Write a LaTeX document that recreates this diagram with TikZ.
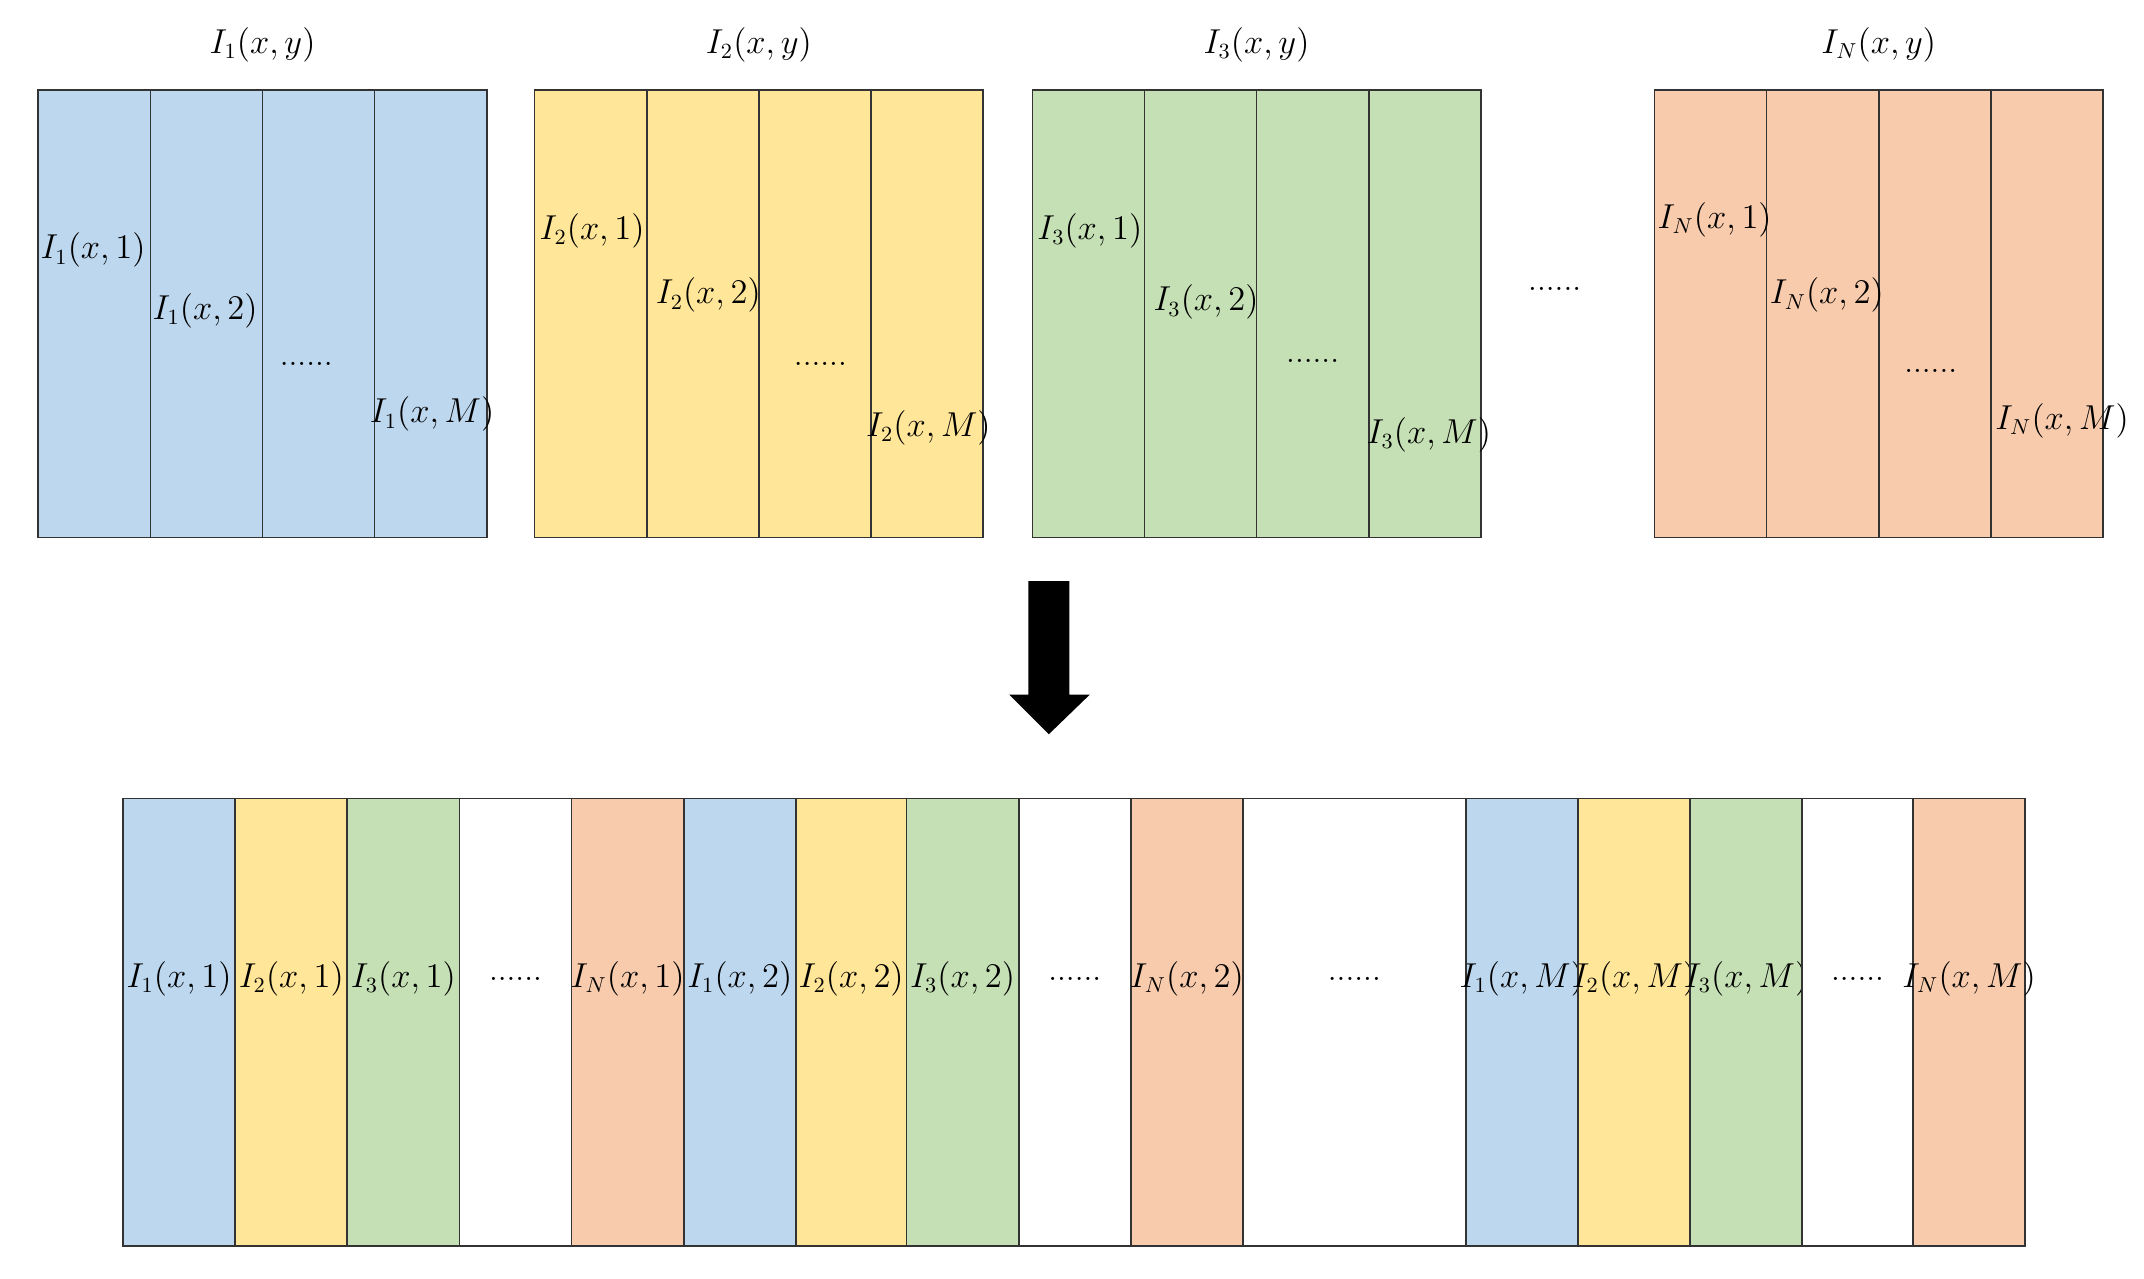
\documentclass[tikz,border=0pt]{standalone}
\usepackage{amsmath}
\definecolor{cb}{HTML}{BDD7EE}
\definecolor{cy}{HTML}{FFE699}
\definecolor{cg}{HTML}{C5E0B4}
\definecolor{co}{HTML}{F8CBAD}
\begin{document}
\begin{tikzpicture}[x=0.02cm,y=-0.02cm,
  cell/.style={draw=black!80,line width=0.7pt},
  lab/.style={font=\fontsize{13.5}{16}\selectfont,inner sep=0pt}]
\useasboundingbox (0,0) rectangle (1568,935);
% top blocks
\foreach \x/\c/\n in {28/cb/1,391/cy/2,755/cg/3,1210/co/N}{
  \foreach \i in {0,1,2,3}{
    \draw[cell,fill=\c] ({\x+\i*82},66) rectangle ({\x+(\i+1)*82},393);
  }
  \node[lab] (t\n) at ({\x+164},33) {$I_{\n}(x,y)$};
}
\node[lab] (d1) at (68,183) {$I_1(x,1)$};
\node[lab] (d2) at (150,227) {$I_1(x,2)$};
\node[lab] (d3) at (224,266) {......};
\node[lab] (d4) at (316,303) {$I_1(x,M)$};
\node[lab] (e1) at (433,169) {$I_2(x,1)$};
\node[lab] (e2) at (518,216) {$I_2(x,2)$};
\node[lab] (e3) at (600,266) {......};
\node[lab] (e4) at (679,313) {$I_2(x,M)$};
\node[lab] (f1) at (797,169) {$I_3(x,1)$};
\node[lab] (f2) at (882,221) {$I_3(x,2)$};
\node[lab] (f3) at (960,264) {......};
\node[lab] (f4) at (1045,318) {$I_3(x,M)$};
\node[lab] (g1) at (1254,161) {$I_N(x,1)$};
\node[lab] (g2) at (1336,216) {$I_N(x,2)$};
\node[lab] (g3) at (1412,271) {......};
\node[lab] (g4) at (1508,308) {$I_N(x,M)$};
\node[lab] (gd) at (1137,211) {......};
% arrow
\fill (752,425) -- (782,425) -- (782,508) -- (797,508) -- (767,537) -- (738,508) -- (752,508) -- cycle;
% bottom strip
\foreach \a/\b/\c/\t in {90/172/cb/{$I_1(x,1)$},172/254/cy/{$I_2(x,1)$},254/336/cg/{$I_3(x,1)$},336/418/white/{......},418/500/co/{$I_N(x,1)$},500/582/cb/{$I_1(x,2)$},582/663/cy/{$I_2(x,2)$},663/745/cg/{$I_3(x,2)$},745/827/white/{......},827/909/co/{$I_N(x,2)$},909/1072/white/{......},1072/1154/cb/{$I_1(x,M)$},1154/1236/cy/{$I_2(x,M)$},1236/1318/cg/{$I_3(x,M)$},1318/1399/white/{......},1399/1481/co/{$I_N(x,M)$}}{
  \draw[cell,fill=\c] (\a,584) rectangle (\b,911);
  \node[lab] at ({(\a+\b)/2},716) {\t};
}
\end{tikzpicture}
\end{document}
